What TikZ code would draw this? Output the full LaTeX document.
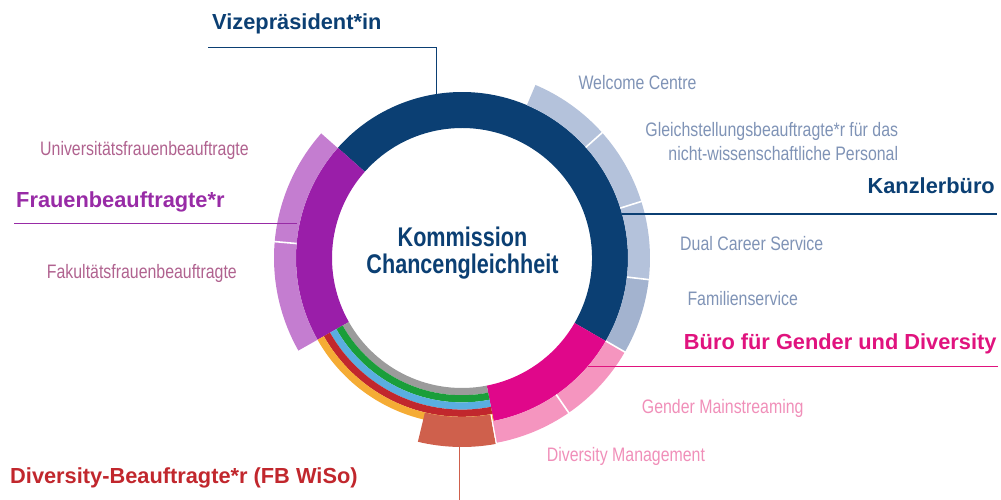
\documentclass[tikz,border=0pt]{standalone}
\usepackage{fontspec}
\setmainfont{Liberation Sans}
\newfontfamily\narrowfont[FakeStretch=0.815]{Liberation Sans}
\newfontfamily\centerfont[FakeStretch=0.80]{Liberation Sans}
\definecolor{cNavy}{HTML}{0B3F73}
\definecolor{cLightBlue}{HTML}{B4C2DB}
\definecolor{cMidBlue}{HTML}{A3B3CF}
\definecolor{cBlueText}{HTML}{7F93B6}
\definecolor{cPurple}{HTML}{9A1EA9}
\definecolor{cLightPurple}{HTML}{C47DD0}
\definecolor{cPurpleText}{HTML}{982BA6}
\definecolor{cMauveText}{HTML}{B0628F}
\definecolor{cMagenta}{HTML}{E0078A}
\definecolor{cMagentaText}{HTML}{E0137E}
\definecolor{cPink}{HTML}{F595BF}
\definecolor{cPinkText}{HTML}{F08FB9}
\definecolor{cSalmon}{HTML}{CF604C}
\definecolor{cRedText}{HTML}{C1272D}
\definecolor{cGray}{HTML}{9B9B9B}
\definecolor{cGreen}{HTML}{1A9E3A}
\definecolor{cSky}{HTML}{5AAEE0}
\definecolor{cRed}{HTML}{C1272D}
\definecolor{cOrange}{HTML}{F5AC35}
\newcommand\annsec[5]{\fill[#1] (#2:#4pt) arc[start angle=#2,end angle=#3,radius=#4pt] -- (#3:#5pt) arc[start angle=#3,end angle=#2,radius=#5pt] -- cycle;}
\tikzset{
  biglab/.style={inner sep=0pt, font=\fontsize{21.8}{24}\selectfont\bfseries},
  smalllab/.style={inner sep=0pt, font=\narrowfont\fontsize{19.5}{24}\selectfont},
  centerlab/.style={inner sep=0pt, align=center, font=\centerfont\fontsize{27}{26.6}\selectfont\bfseries, text=cNavy},
  leader/.style={line width=1.5pt},
  sepline/.style={white, line width=1.6pt}
}
\begin{document}
\begin{tikzpicture}[x=1pt,y=1pt]
\useasboundingbox (0,0) rectangle (1001,500);
\coordinate (C) at (462,242);
\begin{scope}[shift={(C)}]
  % main ring
  \annsec{cNavy}{-30}{138.4}{130}{166}
  \annsec{cPurple}{138.4}{209.5}{130}{166}
  \annsec{cMagenta}{281}{330}{130}{166}
  \annsec{cGray}{209.5}{281}{130}{137.2}
  \annsec{cGreen}{209.5}{281}{137.2}{144.4}
  \annsec{cSky}{209.5}{281}{144.4}{151.6}
  \annsec{cRed}{209.5}{281}{151.6}{158.8}
  \annsec{cOrange}{209.5}{281}{158.8}{166}
  % outer band
  \annsec{cLightPurple}{138.5}{175}{166}{188}
  \annsec{cLightPurple}{175}{209.5}{166}{188}
  \annsec{cLightBlue}{41.8}{67}{166}{188}
  \annsec{cLightBlue}{17.5}{41.8}{166}{188}
  \annsec{cLightBlue}{-6.6}{17.5}{166}{188}
  \annsec{cMidBlue}{-30}{-6.6}{166}{188}
  \annsec{cPink}{-55.4}{-30}{166}{188}
  \annsec{cPink}{-79.5}{-55.4}{166}{188}
  \annsec{cSalmon}{256.5}{280.3}{159}{189}
  % white separators
  \foreach \a in {41.8,17.5,-6.6,-30,-55.4,175}{
    \draw[sepline] (\a:166pt) -- (\a:189pt);
  }
  \draw[sepline, line width=1.2pt] (280.5:159pt) -- (280.5:189pt);
\end{scope}

% leader lines
\coordinate (vA) at (436.7,406);
\coordinate (vB) at (208,452.3);
\draw[leader, cNavy] (vA) |- (vB);
\coordinate (kA) at (622,286);
\coordinate (kB) at (997,286);
\draw[leader, cNavy] (kA) -- (kB);
\coordinate (fA) at (297,276.7);
\coordinate (fB) at (14,276.7);
\draw[leader, cPurpleText] (fA) -- (fB);
\coordinate (bA) at (587.5,133.3);
\coordinate (bB) at (998,133.3);
\draw[leader, cMagentaText] (bA) -- (bB);
\coordinate (dA) at (459.3,53);
\coordinate (dB) at (459.3,0);
\draw[leader, cSalmon] (dA) -- (dB);

% labels
\node[biglab, text=cNavy, anchor=base west] (vize) at (212,470) {Vizepräsident*in};
\node[smalllab, text=cBlueText, anchor=base west] (welcome) at (578.3,410) {Welcome Centre};
\node[smalllab, text=cBlueText, anchor=base east, align=right] (gleich) at (898.3,339.3) {Gleichstellungsbeauftragte*r für das\\nicht-wissenschaftliche Personal};
\node[biglab, text=cNavy, anchor=base east] (kanzler) at (995,306.7) {Kanzlerbüro};
\node[smalllab, text=cBlueText, anchor=base west] (dual) at (680,249.3) {Dual Career Service};
\node[smalllab, text=cBlueText, anchor=base west] (familie) at (687.3,194) {Familienservice};
\node[biglab, text=cMagentaText, anchor=base east] (buero) at (996.7,150.7) {Büro für Gender und Diversity};
\node[smalllab, text=cPinkText, anchor=base west] (gender) at (641.7,86) {Gender Mainstreaming};
\node[smalllab, text=cPinkText, anchor=base west] (divman) at (546.7,38.3) {Diversity Management};
\node[biglab, text=cRedText, anchor=base west] (divbeauf) at (10,16) {Diversity-Beauftragte*r (FB WiSo)};
\node[smalllab, text=cMauveText, anchor=base west] (unifrau) at (40,344) {Universitätsfrauenbeauftragte};
\node[biglab, text=cPurpleText, anchor=base west] (frauen) at (16,292.7) {Frauenbeauftragte*r};
\node[smalllab, text=cMauveText, anchor=base west] (fakfrau) at (46.7,221.7) {Fakultätsfrauenbeauftragte};
\node[centerlab, anchor=base] (komm) at (462.5,226.7) {Kommission\\Chancengleichheit};
\end{tikzpicture}
\end{document}
